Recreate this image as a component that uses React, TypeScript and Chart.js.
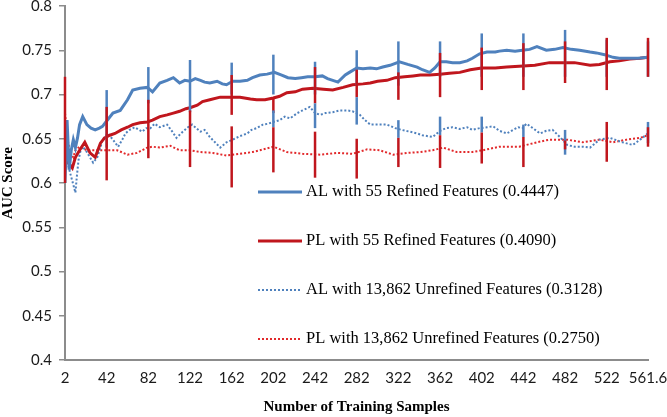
import React, { useEffect, useRef } from "react";
import { Chart, registerables } from "chart.js";

Chart.register(...registerables);

// ---------- data ----------
const xTickValues = [2, 42, 82, 122, 162, 202, 242, 282, 322, 362, 402, 442, 482, 522, 561.6];
const yTickValues = [0.4, 0.45, 0.5, 0.55, 0.6, 0.65, 0.7, 0.75, 0.8];

const seriesLabels = [
  "AL with 55 Refined Features (0.4447)",
  "PL with 55 Refined Features (0.4090)",
  "AL with 13,862 Unrefined Features (0.3128)",
  "PL with 13,862 Unrefined Features (0.2750)",
];

const alRefinedX = [2, 4, 6, 8, 10, 12, 14, 16, 19, 23, 27, 31, 35, 38, 42, 48, 55, 62, 67, 74, 81, 86, 93, 100, 106, 112, 117, 122, 127, 132, 136, 141, 148, 153, 157, 163, 170, 177, 182, 189, 196, 203, 210, 216, 223, 229, 235, 242, 249, 254, 264, 271, 275, 282, 288, 295, 301, 307, 314, 323, 331, 340, 345, 352, 357, 362, 368, 374, 381, 388, 393, 400, 407, 415, 419, 426, 434, 441, 448, 455, 464, 472, 480, 488, 496, 506, 512, 520, 528, 534, 541, 552, 561.6];
const alRefinedY = [0.600, 0.671, 0.615, 0.637, 0.649, 0.640, 0.651, 0.666, 0.675, 0.666, 0.662, 0.660, 0.662, 0.664, 0.670, 0.679, 0.682, 0.694, 0.705, 0.707, 0.708, 0.703, 0.713, 0.716, 0.719, 0.713, 0.716, 0.715, 0.718, 0.716, 0.714, 0.713, 0.715, 0.712, 0.711, 0.715, 0.715, 0.716, 0.719, 0.722, 0.723, 0.725, 0.722, 0.719, 0.718, 0.719, 0.720, 0.720, 0.721, 0.718, 0.714, 0.722, 0.725, 0.730, 0.729, 0.730, 0.729, 0.731, 0.733, 0.737, 0.734, 0.731, 0.728, 0.725, 0.730, 0.737, 0.737, 0.736, 0.736, 0.738, 0.741, 0.746, 0.748, 0.748, 0.749, 0.750, 0.749, 0.750, 0.751, 0.754, 0.750, 0.751, 0.753, 0.751, 0.750, 0.748, 0.747, 0.745, 0.742, 0.741, 0.741, 0.741, 0.742];

const plRefinedX = [2, 5, 9, 12, 16, 21, 26, 31, 36, 40, 45, 50, 56, 62, 67, 74, 81, 86, 93, 100, 106, 112, 118, 122, 129, 134, 141, 151, 160, 170, 180, 186, 194, 202, 208, 215, 223, 230, 240, 250, 259, 269, 278, 288, 295, 302, 311, 319, 328, 336, 343, 352, 362, 371, 381, 391, 402, 415, 426, 438, 453, 467, 480, 491, 506, 515, 525, 534, 544, 554, 561.6];
const plRefinedY = [0.637, 0.623, 0.617, 0.629, 0.637, 0.646, 0.634, 0.629, 0.645, 0.651, 0.654, 0.656, 0.660, 0.663, 0.666, 0.668, 0.669, 0.671, 0.675, 0.677, 0.679, 0.681, 0.684, 0.685, 0.688, 0.692, 0.694, 0.697, 0.697, 0.697, 0.695, 0.694, 0.694, 0.696, 0.698, 0.702, 0.703, 0.706, 0.707, 0.706, 0.705, 0.708, 0.711, 0.712, 0.713, 0.715, 0.716, 0.719, 0.720, 0.721, 0.722, 0.722, 0.723, 0.724, 0.725, 0.728, 0.730, 0.730, 0.731, 0.732, 0.733, 0.736, 0.736, 0.736, 0.733, 0.734, 0.737, 0.738, 0.740, 0.741, 0.742];

const alUnrefinedX = [2, 4, 7, 10, 12, 13.5, 15, 17, 19, 23, 26, 29, 33, 36, 38, 43, 48, 53, 57, 60, 64, 69, 76, 80, 84, 88, 93, 100, 105, 109, 115, 120, 124, 128, 132, 136, 141, 146, 151, 157, 163, 170, 177, 181, 186, 192, 197, 202, 208, 213, 218, 225, 230, 237, 242, 247, 252, 259, 266, 273, 278, 285, 290, 295, 302, 311, 319, 325, 333, 340, 345, 355, 362, 368, 374, 381, 388, 393, 400, 407, 413, 419, 426, 432, 437, 441, 445, 451, 458, 464, 470, 477, 484, 491, 499, 506, 515, 525, 537, 547, 554, 561.6];
const alUnrefinedY = [0.637, 0.626, 0.611, 0.598, 0.589, 0.609, 0.626, 0.637, 0.641, 0.635, 0.629, 0.623, 0.629, 0.640, 0.649, 0.656, 0.649, 0.641, 0.649, 0.656, 0.660, 0.663, 0.658, 0.662, 0.662, 0.667, 0.663, 0.666, 0.658, 0.651, 0.658, 0.663, 0.666, 0.662, 0.658, 0.660, 0.652, 0.646, 0.640, 0.646, 0.649, 0.653, 0.656, 0.660, 0.662, 0.666, 0.667, 0.669, 0.671, 0.675, 0.673, 0.679, 0.682, 0.686, 0.679, 0.677, 0.679, 0.680, 0.682, 0.682, 0.681, 0.677, 0.671, 0.666, 0.666, 0.666, 0.662, 0.660, 0.658, 0.656, 0.654, 0.652, 0.659, 0.662, 0.663, 0.661, 0.663, 0.660, 0.662, 0.663, 0.664, 0.659, 0.656, 0.660, 0.663, 0.662, 0.667, 0.662, 0.656, 0.659, 0.660, 0.652, 0.643, 0.641, 0.641, 0.640, 0.649, 0.651, 0.646, 0.643, 0.649, 0.656];

const plUnrefinedX = [2, 4, 7, 10, 12, 16, 23, 29, 36, 43, 52, 62, 71, 81, 86, 93, 103, 112, 122, 132, 144, 157, 170, 182, 189, 202, 215, 230, 247, 263, 278, 292, 304, 317, 330, 343, 355, 365, 378, 393, 403, 419, 438, 455, 467, 484, 499, 515, 528, 541, 554, 561.6];
const plUnrefinedY = [0.679, 0.652, 0.634, 0.629, 0.637, 0.641, 0.637, 0.637, 0.637, 0.637, 0.637, 0.632, 0.634, 0.640, 0.641, 0.640, 0.642, 0.637, 0.637, 0.635, 0.634, 0.631, 0.633, 0.635, 0.637, 0.641, 0.635, 0.633, 0.632, 0.634, 0.633, 0.638, 0.637, 0.632, 0.634, 0.635, 0.637, 0.640, 0.635, 0.635, 0.637, 0.641, 0.641, 0.646, 0.649, 0.649, 0.646, 0.649, 0.646, 0.649, 0.651, 0.654];

// error bars (low / high) at each x tick
const alRefinedErrLow = [null, 0.64, 0.69, 0.68, 0.70, 0.70, 0.70, 0.71, 0.71, 0.72, 0.72, 0.72, 0.72, 0.72, 0.72];
const alRefinedErrHigh = [null, 0.705, 0.731, 0.739, 0.736, 0.745, 0.737, 0.75, 0.76, 0.76, 0.769, 0.769, 0.773, 0.762, 0.76];
const plRefinedErrLow = [0.60, 0.603, 0.628, 0.618, 0.677, 0.679, 0.69, 0.697, 0.694, 0.697, 0.705, 0.705, 0.713, 0.705, 0.72];
const plRefinedErrHigh = [0.72, 0.686, 0.694, 0.682, 0.722, 0.697, 0.731, 0.728, 0.725, 0.747, 0.753, 0.758, 0.76, 0.764, 0.764];
const alUnrefinedErrLow = [null, null, null, null, null, 0.663, 0.662, 0.666, 0.651, 0.654, 0.657, 0.652, 0.632, null, 0.645];
const alUnrefinedErrHigh = [null, null, null, null, null, 0.682, 0.69, 0.697, 0.671, 0.675, 0.675, 0.666, 0.66, null, 0.669];
const plUnrefinedErrLow = [null, null, null, null, 0.595, 0.612, 0.606, 0.605, 0.618, 0.617, 0.622, 0.618, 0.638, 0.624, 0.641];
const plUnrefinedErrHigh = [null, null, null, null, 0.664, 0.663, 0.658, 0.65, 0.651, 0.654, 0.657, 0.652, 0.648, 0.669, 0.663];

// ---------- styles ----------
const BLUE = "#4F81BD";
const RED = "#C0161D";
const RED_DOT = "#E2292B";
const AXIS = "#8c8c8c";
const TICK_FONT = { family: "Lato", size: 15 };
const TITLE_FONT = { family: "'Liberation Serif', 'Times New Roman', serif", size: 15, weight: "bold" as const };

const zip = (xs: number[], ys: number[]) => xs.map((x, i) => ({ x, y: ys[i] }));

const errorSets = [
  { color: BLUE, low: alRefinedErrLow, high: alRefinedErrHigh },
  { color: RED, low: plRefinedErrLow, high: plRefinedErrHigh },
  { color: BLUE, low: alUnrefinedErrLow, high: alUnrefinedErrHigh },
  { color: RED, low: plUnrefinedErrLow, high: plUnrefinedErrHigh },
];

const errorBarPlugin = {
  id: "errorBars",
  afterDatasetsDraw(chart: any) {
    const { ctx, scales } = chart;
    const xs = scales.x, ys = scales.y;
    ctx.save();
    ctx.lineWidth = 2.5;
    errorSets.forEach((set) => {
      ctx.strokeStyle = set.color;
      xTickValues.forEach((xv, i) => {
        const lo = set.low[i], hi = set.high[i];
        if (lo == null || hi == null) return;
        const px = xs.getPixelForValue(xv);
        ctx.beginPath();
        ctx.moveTo(px, ys.getPixelForValue(lo));
        ctx.lineTo(px, ys.getPixelForValue(hi));
        ctx.stroke();
      });
    });
    ctx.restore();
  },
};

const legendStyles = [
  { color: BLUE, width: 3, dash: [] as number[] },
  { color: RED, width: 3, dash: [] as number[] },
  { color: BLUE, width: 2, dash: [2, 2] },
  { color: RED_DOT, width: 2, dash: [2, 2] },
];

const legendPlugin = {
  id: "customLegend",
  afterDraw(chart: any) {
    const { ctx } = chart;
    const rows = [192, 241, 290, 339];
    ctx.save();
    seriesLabels.forEach((label, i) => {
      const st = legendStyles[i];
      const y = rows[i];
      ctx.strokeStyle = st.color;
      ctx.lineWidth = st.width;
      ctx.setLineDash(st.dash);
      ctx.beginPath();
      ctx.moveTo(258, y);
      ctx.lineTo(302, y);
      ctx.stroke();
      ctx.setLineDash([]);
      ctx.fillStyle = "#000";
      ctx.font = "16.5px 'Liberation Serif', 'Times New Roman', serif";
      ctx.textBaseline = "middle";
      ctx.textAlign = "left";
      ctx.fillText(label, 306, y);
    });
    ctx.restore();
  },
};

export default function App() {
  const canvasRef = useRef<HTMLCanvasElement | null>(null);

  useEffect(() => {
    if (!canvasRef.current) return;
    const chart = new Chart(canvasRef.current, {
      type: "line",
      data: {
        datasets: [
          {
            label: seriesLabels[3],
            data: zip(plUnrefinedX, plUnrefinedY),
            borderColor: RED_DOT,
            borderWidth: 2,
            borderDash: [2, 2],
            pointRadius: 0,
            order: 4,
          },
          {
            label: seriesLabels[2],
            data: zip(alUnrefinedX, alUnrefinedY),
            borderColor: BLUE,
            borderWidth: 2,
            borderDash: [2, 2],
            pointRadius: 0,
            order: 3,
          },
          {
            label: seriesLabels[1],
            data: zip(plRefinedX, plRefinedY),
            borderColor: RED,
            borderWidth: 3,
            pointRadius: 0,
            order: 2,
          },
          {
            label: seriesLabels[0],
            data: zip(alRefinedX, alRefinedY),
            borderColor: BLUE,
            borderWidth: 3,
            pointRadius: 0,
            order: 1,
          },
        ],
      },
      options: {
        responsive: false,
        animation: false,
        devicePixelRatio: 1,
        layout: { padding: 0 },
        plugins: {
          legend: { display: false },
          tooltip: { enabled: false },
        },
        elements: { line: { tension: 0 } },
        scales: {
          x: {
            type: "linear",
            min: 2,
            max: 561.6,
            afterBuildTicks: (s: any) => {
              s.ticks = xTickValues.map((v) => ({ value: v }));
            },
            afterFit: (s: any) => {
              s.height = 57;
              s.paddingRight = 19;
            },
            grid: { display: false, drawTicks: false },
            border: { display: true, color: AXIS, width: 2 },
            ticks: {
              padding: 9,
              color: "#1a1a1a",
              font: TICK_FONT,
              maxRotation: 0,
              autoSkip: false,
              callback: (v: any) => String(v),
            },
            title: {
              display: true,
              text: "Number of Training Samples",
              color: "#000",
              font: TITLE_FONT,
              padding: { top: 0, bottom: 1 },
            },
          },
          y: {
            min: 0.4,
            max: 0.8,
            afterBuildTicks: (s: any) => {
              s.ticks = yTickValues.map((v) => ({ value: v }));
            },
            afterFit: (s: any) => {
              s.width = 65;
              s.paddingTop = 6;
            },
            grid: {
              display: true,
              drawOnChartArea: false,
              drawTicks: true,
              tickLength: 6,
              color: AXIS,
              lineWidth: 1.5,
            },
            border: { display: true, color: AXIS, width: 2 },
            ticks: {
              padding: 7,
              color: "#1a1a1a",
              font: TICK_FONT,
              callback: (v: any) => String(+Number(v).toFixed(2)),
            },
            title: {
              display: true,
              text: "AUC Score",
              color: "#000",
              font: { ...TITLE_FONT, lineHeight: 1.07 },
              padding: 0,
            },
          },
        },
      },
      plugins: [errorBarPlugin, legendPlugin],
    } as any);
    return () => chart.destroy();
  }, []);

  return (
    <div style={{ position: "fixed", left: 0, top: 0, width: 667, height: 417, background: "#fff" }}>
      <canvas ref={canvasRef} width={667} height={417} />
    </div>
  );
}
